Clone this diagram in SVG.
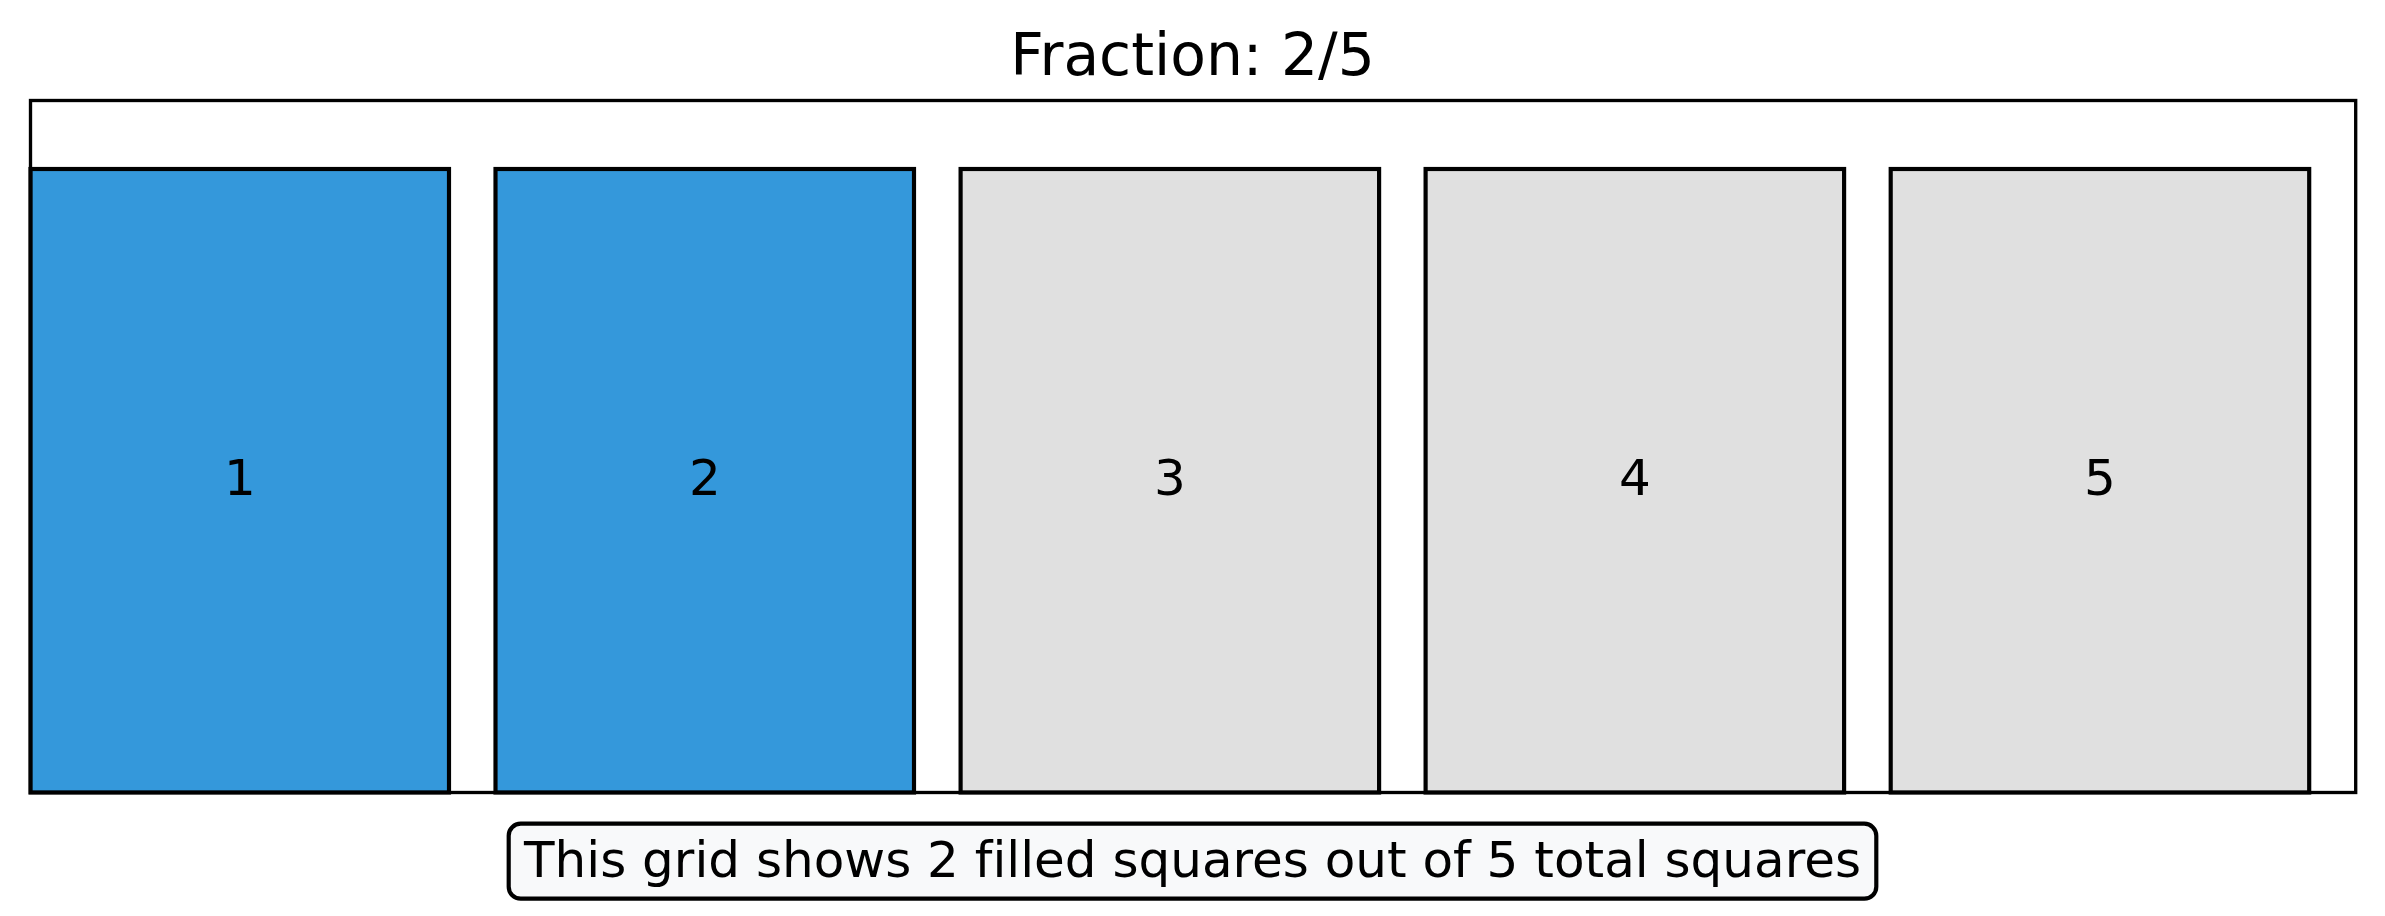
<svg xmlns="http://www.w3.org/2000/svg" width="2385" height="916" viewBox="0 0 2385 916">
<style>
.cell{stroke:#000;stroke-width:4.17}
.filled{fill:#3498db}
.empty{fill:#e0e0e0}
text{font-family:"DejaVu Sans",sans-serif;fill:#000;text-anchor:middle;font-variant-ligatures:none;font-feature-settings:"liga" 0}
.num{font-size:50px}
.title{font-size:58.3px}
.cap{font-size:50px}
</style>
<rect x="0" y="0" width="2385" height="916" fill="#ffffff"/>
<text class="title" x="1192.5" y="75">Fraction: 2/5</text>
<g id="cell1"><rect class="cell filled" x="30.5" y="169" width="418.5" height="623.5"/><text class="num" x="239.8" y="495">1</text></g>
<g id="cell2"><rect class="cell filled" x="495.5" y="169" width="418.5" height="623.5"/><text class="num" x="704.8" y="495">2</text></g>
<g id="cell3"><rect class="cell empty" x="960.6" y="169" width="418.5" height="623.5"/><text class="num" x="1169.9" y="495">3</text></g>
<g id="cell4"><rect class="cell empty" x="1425.6" y="169" width="418.5" height="623.5"/><text class="num" x="1634.9" y="495">4</text></g>
<g id="cell5"><rect class="cell empty" x="1890.7" y="169" width="418.5" height="623.5"/><text class="num" x="2100" y="495">5</text></g>
<g id="frame"><rect x="30.5" y="100.5" width="2325.2" height="692" fill="none" stroke="#000" stroke-width="3.33"/></g>
<g id="caption"><rect x="508.7" y="823.7" width="1367.6" height="75" rx="12" ry="12" fill="#f8f9fa" stroke="#000" stroke-width="4.17"/><text class="cap" x="1192.5" y="877">This grid shows 2 filled squares out of 5 total squares</text></g>
<g id="connectors"/>
</svg>
